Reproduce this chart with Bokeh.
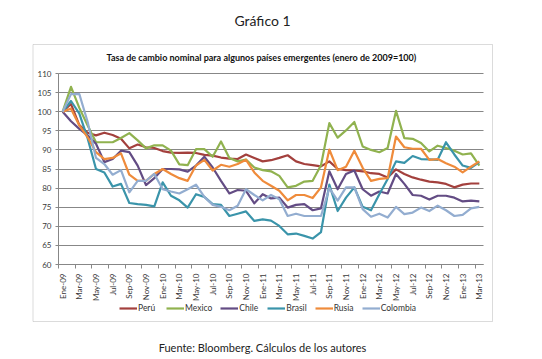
import math
from bokeh.plotting import figure
from bokeh.models import (ColumnDataSource, Range1d, FixedTicker, Label, BoxAnnotation,
                          Legend, LegendItem)
from bokeh.embed import file_html
from bokeh.resources import INLINE

# ---------------- data ----------------
months = ["Ene-09", "Feb-09", "Mar-09", "Abr-09", "May-09", "Jun-09", "Jul-09", "Ago-09", "Sep-09", "Oct-09", "Nov-09", "Dic-09",
          "Ene-10", "Feb-10", "Mar-10", "Abr-10", "May-10", "Jun-10", "Jul-10", "Ago-10", "Sep-10", "Oct-10", "Nov-10", "Dic-10",
          "Ene-11", "Feb-11", "Mar-11", "Abr-11", "May-11", "Jun-11", "Jul-11", "Ago-11", "Sep-11", "Oct-11", "Nov-11", "Dic-11",
          "Ene-12", "Feb-12", "Mar-12", "Abr-12", "May-12", "Jun-12", "Jul-12", "Ago-12", "Sep-12", "Oct-12", "Nov-12", "Dic-12",
          "Ene-13", "Feb-13", "Mar-13"]

peru = [100, 102, 96.5, 94.5, 93.8, 94.5, 93.9, 92.9, 90.4, 91.4, 90.7, 90.5, 89.7, 89.3, 89.2, 89.3, 89.2, 88.7, 88.5, 88.0,
        87.7, 87.6, 88.8, 87.9, 87.0, 87.3, 87.9, 88.6, 87.0, 86.3, 86.0, 85.7, 87.0, 85.0, 84.7, 84.6, 84.4, 83.9, 83.7, 82.8,
        84.9, 83.7, 82.8, 82.2, 81.7, 81.5, 81.1, 80.2, 80.9, 81.2, 81.2]
mexico = [100, 106.5, 101, 96.4, 92.0, 92.0, 92.0, 93.1, 94.4, 92.5, 90.4, 91.2, 91.2, 89.8, 86.2, 86.0, 90.2, 90.2, 88.2, 92.2,
          87.9, 87.0, 87.5, 85.4, 84.7, 84.4, 83.2, 80.2, 80.6, 81.7, 81.9, 86.0, 97.0, 93.2, 95.1, 97.3, 90.9, 90.0, 89.4, 90.5,
          100.2, 93.1, 92.9, 91.8, 89.6, 91.1, 90.5, 89.8, 88.8, 89.1, 85.9]
chile = [100, 97.5, 95.5, 93.8, 91.6, 86.8, 87.6, 89.8, 89.4, 85.9, 80.8, 82.6, 85.0, 85.0, 84.9, 84.3, 85.9, 88.2, 85.4, 81.9,
         78.6, 79.5, 79.3, 76.0, 78.4, 77.3, 77.5, 74.9, 75.6, 75.8, 74.2, 74.7, 84.4, 79.7, 83.7, 84.6, 79.7, 78.0, 79.1, 78.6,
         83.7, 81.1, 78.2, 78.0, 77.0, 78.0, 78.0, 77.5, 76.5, 76.7, 76.5]
brasil = [100, 102.8, 99.5, 93.0, 85.0, 84.1, 80.4, 81.1, 76.1, 75.8, 75.6, 75.2, 81.5, 78.0, 76.8, 74.9, 78.4, 77.7, 75.8, 75.6,
          72.7, 73.3, 73.9, 71.4, 71.8, 71.5, 70.1, 67.9, 68.1, 67.5, 66.8, 68.5, 80.9, 74.0, 77.5, 80.2, 75.1, 74.2, 78.4, 82.4,
          87.0, 86.6, 88.4, 87.6, 87.5, 87.4, 92.0, 88.8, 85.9, 85.3, 86.8]
rusia = [100, 100.8, 96.4, 93.3, 89.4, 87.6, 87.9, 89.1, 83.5, 81.9, 81.9, 83.7, 85.0, 83.7, 82.6, 81.9, 85.9, 87.4, 84.6, 86.1,
         85.6, 86.3, 87.4, 84.1, 81.9, 80.6, 79.3, 76.8, 78.2, 78.2, 77.4, 80.2, 90.1, 84.7, 85.6, 89.8, 85.3, 81.9, 82.4, 82.6,
         93.5, 90.7, 90.3, 90.3, 87.4, 87.6, 86.5, 85.6, 84.1, 85.6, 87.0]
colombia = [100, 104.6, 104.6, 97.3, 87.9, 86.3, 83.5, 84.7, 78.9, 81.9, 81.9, 83.7, 79.7, 79.1, 78.6, 79.7, 80.9, 77.7, 75.6, 75.1,
            74.2, 75.4, 79.7, 78.2, 76.8, 78.2, 77.1, 72.7, 73.3, 72.7, 72.7, 72.7, 80.0, 76.7, 80.2, 80.2, 74.5, 72.5, 73.3, 72.3,
            75.1, 73.2, 73.6, 74.9, 74.0, 75.4, 74.2, 72.7, 73.0, 74.7, 75.1]

series_names = ["Perú", "Mexico", "Chile", "Brasil", "Rusia", "Colombia"]
series_values = [peru, mexico, chile, brasil, rusia, colombia]
series_colors = ["#A3403D", "#90B24F", "#634C84", "#3A94AA", "#EF8B3B", "#93ADD0"]

y_ticks = [60, 65, 70, 75, 80, 85, 90, 95, 100, 105, 110]

title_text = "Tasa de cambio nominal para algunos países emergentes  (enero de 2009=100)"
heading_text = "Gráfico 1"
source_text = "Fuente: Bloomberg. Cálculos de los autores"

FONT = "Lato"
GRID = "#878787"

# ---------------- geometry (page pixels; the figure sits at the page origin) ----------------
OX, OY = 0, 0
W, H = 542, 359
N = len(months)
PX_L, PX_R = 58, 483                 # plot area left/right
PY_T, PY_B = 73, 264                 # plot area top (110) / bottom (60)
XS = (PX_R - PX_L) / N               # px per month
YS = (PY_B - PY_T) / (max(y_ticks) - min(y_ticks))

def dx(px):
    return -0.5 + (px - PX_L) / XS

def dy(py):
    return max(y_ticks) - (py - PY_T) / YS

p = figure(width=W, height=H, output_backend="svg", toolbar_location=None,
           x_range=Range1d(dx(OX), dx(OX + W)), y_range=Range1d(dy(OY + H), dy(OY)),
           min_border=0, min_border_left=0, min_border_right=0, min_border_top=0, min_border_bottom=0)
p.outline_line_color = None
p.background_fill_color = "white"
p.border_fill_color = "white"

x = list(range(N))
items = []
for name, vals, col in zip(series_names, series_values, series_colors):
    src = ColumnDataSource(dict(x=x, y=vals))
    r = p.line("x", "y", source=src, line_color=col, line_width=2.2, line_join="round")
    items.append(LegendItem(label=name, renderers=[r]))

# ---------------- axes (fixed at the plot-area edges) ----------------
xa = p.xaxis[0]
xa.fixed_location = min(y_ticks)
xa.bounds = (-0.5, N - 0.5)
xa.ticker = FixedTicker(ticks=list(range(0, N, 2)),
                        minor_ticks=[i - 0.5 for i in range(0, N + 1, 2)])
xa.major_label_overrides = {i: months[i] for i in range(0, N, 2)}
xa.major_label_orientation = math.pi / 2
xa.major_tick_out = 0
xa.major_tick_in = 0
xa.minor_tick_out = 4
xa.minor_tick_in = 0
xa.minor_tick_line_color = GRID
xa.axis_line_color = GRID
xa.major_label_standoff = 5
xa.major_label_text_font = FONT
xa.major_label_text_font_size = "8px"
xa.major_label_text_color = "#3a3a3a"

ya = p.yaxis[0]
ya.fixed_location = -0.5
ya.bounds = (min(y_ticks), max(y_ticks))
ya.ticker = FixedTicker(ticks=y_ticks)
ya.major_tick_out = 3
ya.major_tick_in = 0
ya.minor_tick_line_color = None
ya.major_tick_line_color = GRID
ya.axis_line_color = GRID
ya.major_label_standoff = 4
ya.major_label_text_font = FONT
ya.major_label_text_font_size = "8px"
ya.major_label_text_color = "#3a3a3a"

p.xgrid.grid_line_color = None
yg = p.ygrid[0]
yg.grid_line_color = GRID
yg.grid_line_width = 1
if hasattr(type(yg), "cross_bounds"):
    yg.cross_bounds = (-0.5, N - 0.5)
else:
    yg.grid_line_color = None
    p.segment(x0=[-0.5] * len(y_ticks), x1=[N - 0.5] * len(y_ticks), y0=y_ticks, y1=y_ticks,
              line_color=GRID, line_width=1, level="underlay")

# ---------------- chart box, texts, legend ----------------
p.add_layout(BoxAnnotation(left=dx(32.5), right=dx(492), top=dy(44), bottom=dy(321),
                           fill_alpha=0, line_color=GRID, line_width=1, level="underlay"))

p.add_layout(Label(x=dx(262), y=dy(20), text=heading_text, text_align="center", text_baseline="middle",
                   text_font=FONT, text_font_size="14px", text_color="#222222"))
p.add_layout(Label(x=dx(262), y=dy(57), text=title_text, text_align="center", text_baseline="middle",
                   text_font=FONT, text_font_size="9px", text_font_style="bold", text_color="#111111"))
p.add_layout(Label(x=dx(262), y=dy(347), text=source_text, text_align="center", text_baseline="middle",
                   text_font=FONT, text_font_size="11px", text_color="#222222"))

legend = Legend(items=items, orientation="horizontal", location=(119 - OX, (OY + H) - 314),
                glyph_width=18, glyph_height=12, label_standoff=1, spacing=8,
                padding=0, margin=0, label_height=12,
                label_text_font=FONT, label_text_font_size="8.5px", label_text_color="#333333",
                background_fill_alpha=0, border_line_color=None)
p.add_layout(legend, "center")

open("out.html", "w").write(file_html(p, INLINE))
